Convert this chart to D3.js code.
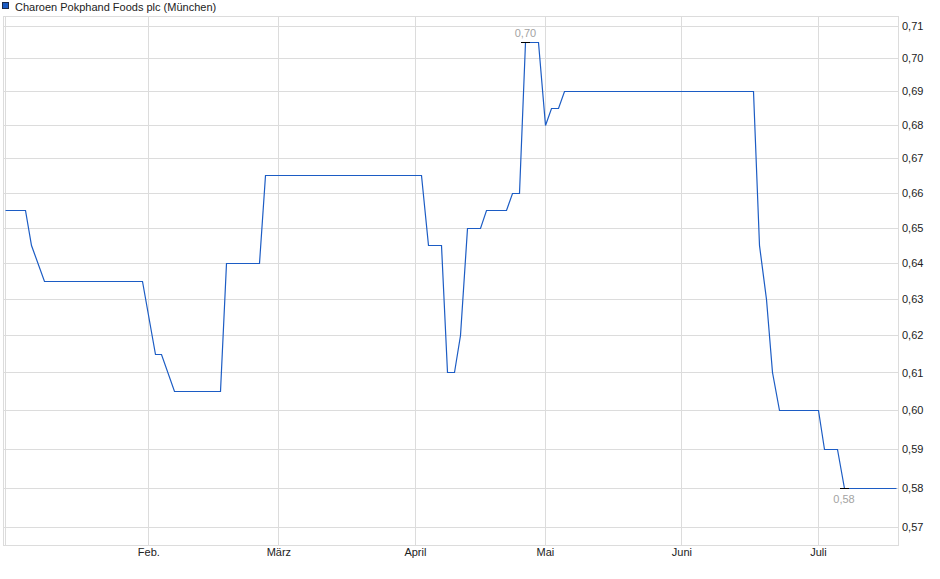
<!DOCTYPE html>
<html>
<head>
<meta charset="utf-8">
<script src="https://cdn.jsdelivr.net/npm/d3@7"></script>
<style>
body { margin: 0; background: #fff; }
text { font-family: "Liberation Sans", Arial, sans-serif; font-size: 11px; }
</style>
</head>
<body>
<div id="chart"></div>
<script>
// closing prices (only the days where the line bends)
var dates = ["2025-01-02","2025-01-07","2025-01-08","2025-01-10","2025-01-31","2025-02-04","2025-02-05","2025-02-07",
  "2025-02-18","2025-02-19","2025-02-26","2025-02-27","2025-04-02","2025-04-03","2025-04-07","2025-04-08",
  "2025-04-09","2025-04-10","2025-04-11","2025-04-15","2025-04-16","2025-04-23","2025-04-24","2025-04-25",
  "2025-04-28","2025-04-30","2025-05-02","2025-05-05","2025-05-06","2025-05-07","2025-06-17","2025-06-18",
  "2025-06-19","2025-06-20","2025-06-23","2025-07-01","2025-07-02","2025-07-04","2025-07-07","2025-07-17"];
var prices = [0.655,0.655,0.645,0.635,0.635,0.615,0.615,0.605,
  0.605,0.64,0.64,0.665,0.665,0.645,0.645,0.61,
  0.61,0.62,0.65,0.65,0.655,0.655,0.66,0.66,
  0.705,0.705,0.68,0.685,0.685,0.69,0.69,0.645,
  0.63,0.61,0.60,0.60,0.59,0.59,0.58,0.58];
var yTicks = [0.57,0.58,0.59,0.60,0.61,0.62,0.63,0.64,0.65,0.66,0.67,0.68,0.69,0.70,0.71];
var monthNames = ["Feb.","März","April","Mai","Juni","Juli"];
var holidays = ["2025-01-01","2025-04-18","2025-04-21","2025-05-01"];
var title = "Charoen Pokphand Foods plc (München)";

var w = 940, h = 579;
var frame = {left: 3, right: 898, top: 16, bottom: 545.5};
var lineColor = "#1c5cc4", gridColor = "#dcdcdc";

var fmtDay = d3.timeFormat("%Y-%m-%d");
var deNum = d3.formatLocale({decimal: ",", thousands: ".", grouping: [3], currency: ["", "€"]}).format(".2f");

// trading days of the exchange -> x is the trading-day index
var days = d3.timeDay.range(new Date(2025, 0, 1), new Date(2025, 6, 18))
  .filter(function (d) { return d.getDay() % 6 !== 0 && holidays.indexOf(fmtDay(d)) < 0; })
  .map(fmtDay);

var data = dates.map(function (d, i) { return {i: days.indexOf(d), v: prices[i]}; });

var monthIdx = monthNames.map(function (m, k) {
  return days.findIndex(function (d) { return +d.slice(5, 7) === k + 2; });
});

var x = d3.scaleLinear().domain([0, days.length - 1]).range([5.3, 896]);
var y = d3.scaleLog().domain([0.57, 0.71]).range([527.3, 26]);

var svg = d3.select("#chart").append("svg")
  .attr("width", w)
  .attr("height", h);

// horizontal grid
svg.append("g")
  .attr("transform", "translate(" + frame.left + ",0)")
  .call(d3.axisRight(y).tickValues(yTicks).tickSize(frame.right - frame.left).tickFormat(""))
  .call(function (g) { g.select(".domain").remove(); })
  .selectAll("line").attr("stroke", gridColor).attr("shape-rendering", "crispEdges");

// vertical month grid (+ first day)
svg.append("g")
  .attr("transform", "translate(0," + frame.top + ")")
  .call(d3.axisBottom(x).tickValues([0].concat(monthIdx)).tickSize(frame.bottom - frame.top).tickFormat(""))
  .call(function (g) { g.select(".domain").remove(); })
  .selectAll("line").attr("stroke", gridColor).attr("shape-rendering", "crispEdges");

svg.append("rect")
  .attr("x", frame.left + 0.5).attr("y", frame.top + 0.5)
  .attr("width", frame.right - frame.left).attr("height", frame.bottom - frame.top - 0.5)
  .attr("fill", "none").attr("stroke", gridColor).attr("shape-rendering", "crispEdges");

// axes labels
svg.append("g")
  .attr("transform", "translate(" + frame.right + ",0)")
  .style("color", "#222")
  .call(d3.axisRight(y).tickValues(yTicks).tickSize(0).tickPadding(4).tickFormat(deNum))
  .call(function (g) { g.select(".domain").remove(); })
  .selectAll("text").attr("font-size", 11).attr("font-family", "Liberation Sans, Arial, sans-serif");

svg.append("g")
  .attr("transform", "translate(0," + frame.bottom + ")")
  .style("color", "#222")
  .call(d3.axisBottom(x).tickValues(monthIdx).tickSize(0).tickPadding(3)
    .tickFormat(function (d, i) { return monthNames[i]; }))
  .call(function (g) { g.select(".domain").remove(); })
  .selectAll("text").attr("font-size", 11).attr("font-family", "Liberation Sans, Arial, sans-serif");

// price line (snapped to pixel centres so the flat parts stay sharp)
var line = d3.line()
  .x(function (d) { return Math.round(x(d.i)) + 0.5; })
  .y(function (d) { return Math.round(y(d.v)) + 0.5; });

svg.append("path")
  .datum(data)
  .attr("d", line)
  .attr("fill", "none")
  .attr("stroke", lineColor)
  .attr("stroke-width", 1.2);

// high / low markers
var hi = data[d3.maxIndex(data, function (d) { return d.v; })];
var lo = data[d3.minIndex(data, function (d) { return d.v; })];
[[hi, -5.5], [lo, 15]].forEach(function (m) {
  var d = m[0];
  svg.append("line")
    .attr("x1", Math.round(x(d.i)) - 4).attr("x2", Math.round(x(d.i)) + 5)
    .attr("y1", Math.round(y(d.v)) + 0.5).attr("y2", Math.round(y(d.v)) + 0.5)
    .attr("stroke", "#000").attr("stroke-width", 1);
  svg.append("text")
    .attr("x", x(d.i)).attr("y", y(d.v) + m[1])
    .attr("text-anchor", "middle")
    .attr("fill", "#a3a3a3")
    .text(deNum(d.v));
});

// legend
svg.append("rect")
  .attr("x", 2.5).attr("y", 2.5).attr("width", 6).attr("height", 6)
  .attr("fill", lineColor).attr("stroke", "#1d2b4a");
svg.append("text")
  .attr("x", 15).attr("y", 10.5)
  .attr("fill", "#222")
  .text(title);
</script>
</body>
</html>
